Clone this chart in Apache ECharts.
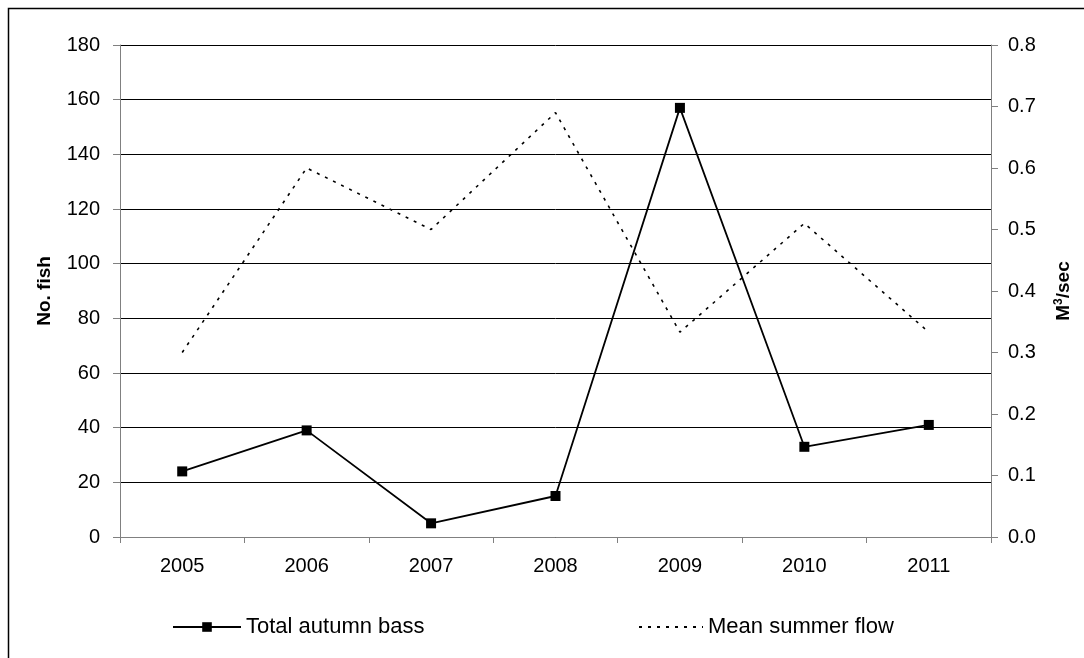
<!DOCTYPE html>
<html>
<head>
<meta charset="utf-8">
<script src="https://cdn.jsdelivr.net/npm/echarts@6/dist/echarts.min.js"></script>
<style>
  html, body { margin: 0; padding: 0; background: #fff; }
  #chart { width: 1084px; height: 658px; }
</style>
</head>
<body>
<div id="chart"></div>
<script>
// Survey years
const years = ['2005', '2006', '2007', '2008', '2009', '2010', '2011'];
// Total autumn bass counts (left axis)
const bassCounts = [24, 39, 5, 15, 157, 33, 41];
// Mean summer flow in m3/sec (right axis)
const summerFlow = [0.30, 0.60, 0.50, 0.69, 0.333, 0.51, 0.333];

const FONT = '"Liberation Sans", Arial, sans-serif';
const TICK_SIZE = 20;
const LEGEND_SIZE = 22;
const chart = echarts.init(document.getElementById('chart'), null, { renderer: 'canvas' });

chart.setOption({
  animation: false,
  backgroundColor: '#fff',
  textStyle: { fontFamily: FONT, color: '#000' },
  graphic: [{
    type: 'rect',
    shape: { x: 8.5, y: 8.5, width: 1100, height: 700 },
    style: { fill: 'none', stroke: '#000', lineWidth: 1.5 },
    silent: true
  }],
  grid: { left: 120, right: 93, top: 45, bottom: 121, containLabel: false },
  legend: [{
    data: ['Total autumn bass'],
    left: 167, top: 611,
    itemWidth: 68, itemHeight: 12,
    textStyle: { fontFamily: FONT, fontSize: LEGEND_SIZE, color: '#000' }
  }, {
    data: ['Mean summer flow'],
    left: 633, top: 611,
    itemWidth: 64, itemHeight: 12,
    itemStyle: { opacity: 0 },
    lineStyle: { width: 2 },
    textStyle: { fontFamily: FONT, fontSize: LEGEND_SIZE, color: '#000' }
  }],
  xAxis: {
    type: 'category',
    data: years,
    boundaryGap: true,
    axisLine: { lineStyle: { color: '#808080', width: 1 } },
    axisTick: { show: true, length: 6, inside: false, lineStyle: { color: '#808080' } },
    axisLabel: { fontFamily: FONT, fontSize: TICK_SIZE, color: '#000', margin: 19 },
    splitLine: { show: false }
  },
  yAxis: [{
    type: 'value',
    min: 0, max: 180, interval: 20,
    position: 'left',
    name: 'No. fish',
    nameLocation: 'middle',
    nameGap: 66,
    nameRotate: 90,
    nameTextStyle: { fontFamily: FONT, fontSize: 19, fontWeight: 'bold', color: '#000' },
    axisLine: { show: true, lineStyle: { color: '#808080', width: 1 } },
    axisTick: { show: true, length: 7, lineStyle: { color: '#808080' } },
    axisLabel: { fontFamily: FONT, fontSize: TICK_SIZE, color: '#000', margin: 20 },
    splitLine: { show: true, lineStyle: { color: '#000', width: 1 } }
  }, {
    type: 'value',
    min: 0, max: 0.8, interval: 0.1,
    position: 'right',
    name: 'M{sup|3}/sec',
    nameLocation: 'middle',
    nameGap: 62,
    nameRotate: 90,
    nameTextStyle: {
      fontFamily: FONT, fontSize: 19, fontWeight: 'bold', color: '#000',
      rich: {
        sup: { fontFamily: FONT, fontSize: 12, fontWeight: 'bold', color: '#000', verticalAlign: 'top', padding: [0, 0, 9, 0] }
      }
    },
    axisLine: { show: true, lineStyle: { color: '#808080', width: 1 } },
    axisTick: { show: true, length: 7, lineStyle: { color: '#808080' } },
    axisLabel: {
      fontFamily: FONT, fontSize: TICK_SIZE, color: '#000', margin: 17,
      formatter: v => v.toFixed(1)
    },
    splitLine: { show: false }
  }],
  series: [{
    name: 'Total autumn bass',
    type: 'line',
    yAxisIndex: 0,
    data: bassCounts,
    symbol: 'rect',
    symbolSize: 10,
    lineStyle: { color: '#000', width: 1.8 },
    itemStyle: { color: '#000' },
    z: 3
  }, {
    name: 'Mean summer flow',
    type: 'line',
    yAxisIndex: 1,
    data: summerFlow,
    symbol: 'none',
    lineStyle: { color: '#000', width: 1.6, type: [3, 6] },
    itemStyle: { color: '#000' },
    z: 2
  }]
});
</script>
</body>
</html>
